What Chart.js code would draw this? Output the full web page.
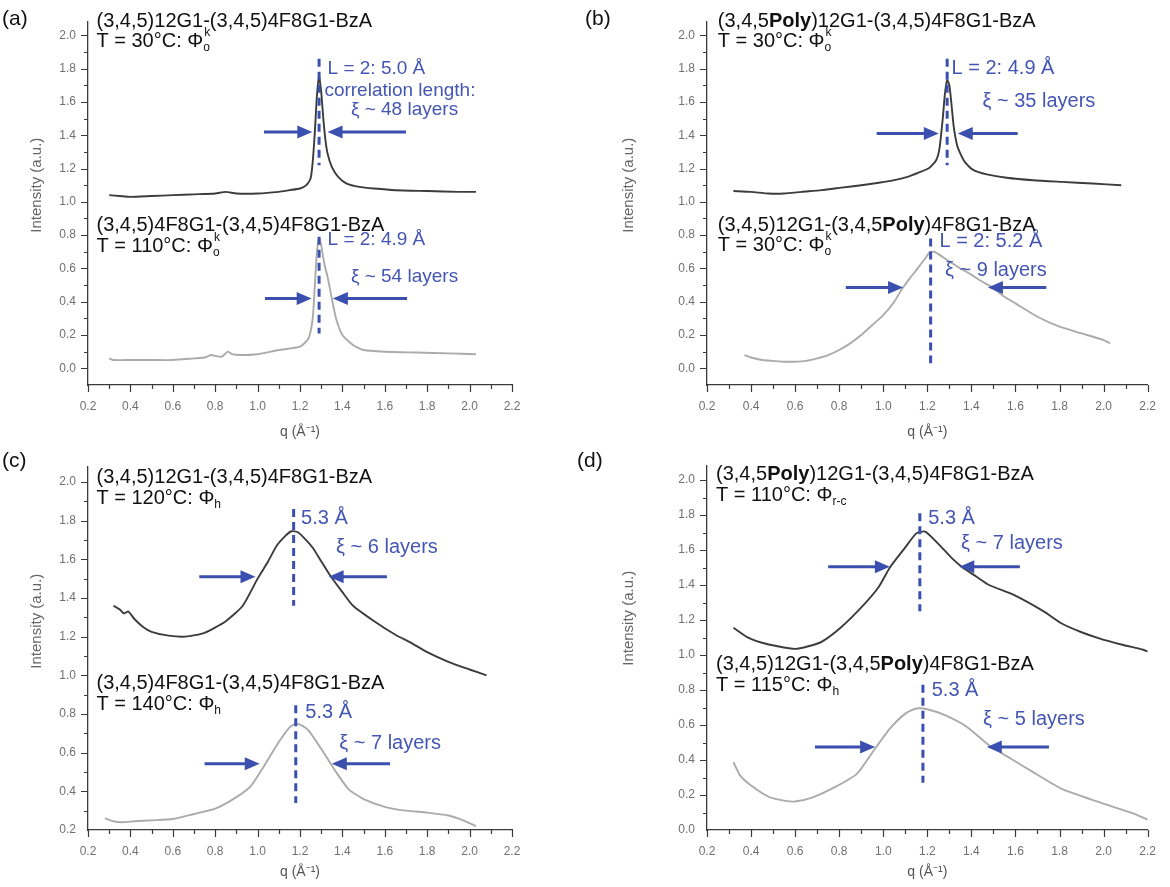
<!DOCTYPE html>
<html>
<head>
<meta charset="utf-8">
<script src="https://cdn.jsdelivr.net/npm/chart.js@4.4.0/dist/chart.umd.min.js"></script>
<style>
  html, body { margin: 0; padding: 0; background: #fff; }
  #fig { position: relative; width: 1170px; height: 887px; overflow: hidden; }
  canvas { position: absolute; }
  .lab { position: absolute; font: 21px "Liberation Sans", Arial, sans-serif; color: #111; }
</style>
</head>
<body>
<div id="fig">
  <canvas id="pa" width="585" height="445" style="left:0;top:0"></canvas>
  <canvas id="pb" width="585" height="445" style="left:585px;top:0"></canvas>
  <canvas id="pc" width="585" height="442" style="left:0;top:445px"></canvas>
  <canvas id="pd" width="585" height="442" style="left:585px;top:445px"></canvas>
  <div class="lab" style="left:2px;top:6px">(a)</div>
  <div class="lab" style="left:585px;top:6px">(b)</div>
  <div class="lab" style="left:2px;top:448px">(c)</div>
  <div class="lab" style="left:577px;top:448px">(d)</div>
</div>
<script>
// ---- axis ticks ----
const xTicks = [0.2, 0.4, 0.6, 0.8, 1.0, 1.2, 1.4, 1.6, 1.8, 2.0, 2.2];
const xTickLabels = ['0.2', '0.4', '0.6', '0.8', '1.0', '1.2', '1.4', '1.6', '1.8', '2.0', '2.2'];
const yTicks0 = [0.0, 0.2, 0.4, 0.6, 0.8, 1.0, 1.2, 1.4, 1.6, 1.8, 2.0];
const yTickLabels0 = ['0.0', '0.2', '0.4', '0.6', '0.8', '1.0', '1.2', '1.4', '1.6', '1.8', '2.0'];
const yTicksC = [0.2, 0.4, 0.6, 0.8, 1.0, 1.2, 1.4, 1.6, 1.8, 2.0];
const yTickLabelsC = ['0.2', '0.4', '0.6', '0.8', '1.0', '1.2', '1.4', '1.6', '1.8', '2.0'];

// ---- (a) ----
const qA1 = [0.30, 0.35, 0.40, 0.50, 0.60, 0.70, 0.80, 0.85, 0.90, 1.00, 1.10, 1.15, 1.20, 1.23, 1.25, 1.26, 1.27, 1.28, 1.29, 1.30, 1.31, 1.32, 1.33, 1.35, 1.38, 1.42, 1.48, 1.55, 1.65, 1.80, 1.95, 2.03];
const iA1 = [1.04, 1.035, 1.03, 1.035, 1.04, 1.045, 1.05, 1.06, 1.05, 1.05, 1.06, 1.07, 1.08, 1.10, 1.14, 1.24, 1.42, 1.64, 1.75, 1.66, 1.50, 1.37, 1.29, 1.21, 1.15, 1.11, 1.09, 1.08, 1.07, 1.065, 1.06, 1.06];
const qA2 = [0.30, 0.32, 0.40, 0.50, 0.60, 0.70, 0.75, 0.78, 0.80, 0.83, 0.86, 0.88, 0.92, 1.00, 1.10, 1.20, 1.24, 1.26, 1.27, 1.28, 1.29, 1.30, 1.31, 1.32, 1.33, 1.35, 1.37, 1.40, 1.45, 1.50, 1.60, 1.75, 1.90, 2.03];
const iA2 = [0.06, 0.05, 0.05, 0.05, 0.05, 0.06, 0.065, 0.08, 0.075, 0.07, 0.10, 0.085, 0.08, 0.085, 0.11, 0.13, 0.18, 0.30, 0.50, 0.70, 0.78, 0.74, 0.66, 0.60, 0.55, 0.42, 0.30, 0.20, 0.14, 0.11, 0.10, 0.095, 0.09, 0.085];

// ---- (b) ----
const qB1 = [0.32, 0.40, 0.48, 0.55, 0.63, 0.72, 0.81, 0.90, 0.98, 1.05, 1.11, 1.16, 1.21, 1.24, 1.255, 1.27, 1.28, 1.29, 1.30, 1.31, 1.32, 1.335, 1.35, 1.37, 1.41, 1.47, 1.56, 1.68, 1.81, 1.95, 2.08];
const iB1 = [1.065, 1.06, 1.05, 1.05, 1.06, 1.07, 1.085, 1.10, 1.115, 1.13, 1.15, 1.175, 1.205, 1.25, 1.32, 1.50, 1.65, 1.73, 1.70, 1.58, 1.45, 1.34, 1.29, 1.24, 1.19, 1.165, 1.145, 1.13, 1.12, 1.11, 1.10];
const qB2 = [0.37, 0.40, 0.45, 0.50, 0.55, 0.60, 0.65, 0.70, 0.75, 0.80, 0.85, 0.90, 0.95, 1.00, 1.05, 1.08, 1.12, 1.15, 1.19, 1.21, 1.23, 1.25, 1.295, 1.35, 1.395, 1.45, 1.495, 1.55, 1.60, 1.70, 1.80, 1.90, 2.00, 2.03];
const iB2 = [0.08, 0.065, 0.05, 0.045, 0.04, 0.04, 0.045, 0.06, 0.08, 0.11, 0.15, 0.20, 0.26, 0.32, 0.40, 0.466, 0.54, 0.59, 0.66, 0.695, 0.70, 0.686, 0.646, 0.60, 0.566, 0.52, 0.486, 0.43, 0.39, 0.31, 0.25, 0.21, 0.17, 0.15];

// ---- (c) ----
const qC1 = [0.32, 0.35, 0.37, 0.39, 0.42, 0.46, 0.50, 0.58, 0.66, 0.75, 0.85, 0.93, 1.00, 1.05, 1.09, 1.13, 1.16, 1.19, 1.22, 1.26, 1.30, 1.34, 1.40, 1.45, 1.55, 1.65, 1.72, 1.80, 1.90, 2.00, 2.08];
const iC1 = [1.36, 1.34, 1.32, 1.33, 1.29, 1.25, 1.225, 1.205, 1.20, 1.22, 1.28, 1.36, 1.50, 1.59, 1.67, 1.72, 1.745, 1.74, 1.71, 1.66, 1.59, 1.52, 1.43, 1.36, 1.28, 1.21, 1.17, 1.12, 1.07, 1.03, 1.00];
const qC2 = [0.28, 0.32, 0.36, 0.42, 0.50, 0.60, 0.70, 0.80, 0.90, 0.97, 1.03, 1.10, 1.15, 1.18, 1.21, 1.24, 1.30, 1.37, 1.43, 1.50, 1.60, 1.70, 1.80, 1.90, 1.97, 2.03];
const iC2 = [0.26, 0.245, 0.24, 0.245, 0.25, 0.257, 0.283, 0.31, 0.37, 0.43, 0.53, 0.655, 0.73, 0.75, 0.74, 0.715, 0.62, 0.50, 0.41, 0.36, 0.32, 0.30, 0.29, 0.275, 0.25, 0.22];

// ---- (d) ----
const qD1 = [0.32, 0.38, 0.45, 0.52, 0.60, 0.66, 0.72, 0.81, 0.91, 0.98, 1.03, 1.10, 1.15, 1.19, 1.25, 1.31, 1.36, 1.42, 1.48, 1.59, 1.73, 1.81, 1.90, 1.98, 2.08, 2.18, 2.20];
const iD1 = [1.156, 1.104, 1.07, 1.05, 1.035, 1.05, 1.075, 1.16, 1.285, 1.39, 1.50, 1.615, 1.695, 1.705, 1.635, 1.555, 1.50, 1.45, 1.40, 1.345, 1.248, 1.18, 1.13, 1.095, 1.06, 1.03, 1.02];
const qD2 = [0.32, 0.35, 0.40, 0.48, 0.55, 0.60, 0.68, 0.78, 0.88, 0.96, 1.03, 1.10, 1.15, 1.20, 1.28, 1.38, 1.48, 1.58, 1.68, 1.81, 1.98, 2.14, 2.20];
const iD2 = [0.388, 0.312, 0.254, 0.19, 0.168, 0.163, 0.187, 0.245, 0.321, 0.46, 0.579, 0.665, 0.694, 0.69, 0.656, 0.589, 0.484, 0.407, 0.331, 0.235, 0.159, 0.092, 0.059];

const FAM = '"Liberation Sans", Arial, sans-serif';
const DARK = '#3c3c3c';
const LIGHT = '#ababab';
const BLUE = '#3a4fae';
const AXIS = '#3a3a3a';

// draws text made of plain / bold / sub / sub+sup pieces
function drawRich(ctx, x, y, segs, size) {
  ctx.textBaseline = 'middle';
  ctx.textAlign = 'left';
  segs.forEach(s => {
    const t = s[0], kind = s[1];
    if (kind === 'ss' || kind === 'sub') {
      ctx.font = Math.round(size * 0.62) + 'px ' + FAM;
      ctx.fillText(t, x, y + size * 0.3);
      let w = ctx.measureText(t).width;
      if (kind === 'ss') {
        ctx.fillText(s[2], x + 1, y - size * 0.45);
        w = Math.max(w, ctx.measureText(s[2]).width + 1);
      }
      x += w;
    } else {
      ctx.font = (kind === 'b' ? 'bold ' : '') + size + 'px ' + FAM;
      ctx.fillText(t, x, y);
      x += ctx.measureText(t).width;
    }
  });
}

const notesPlugin = {
  id: 'notes',
  afterDraw(chart) {
    const ctx = chart.ctx, xs = chart.scales.x, ys = chart.scales.y, a = chart.chartArea;
    const n = chart.options.plugins.notes;
    ctx.save();

    // minor / major ticks
    ctx.strokeStyle = AXIS;
    ctx.lineWidth = 1.2;
    ctx.beginPath();
    for (let k = 2; k <= 22; k++) {
      const px = Math.round(xs.getPixelForValue(k / 10)) + 0.5;
      const len = k % 2 === 0 ? 7 : 4;
      ctx.moveTo(px, a.bottom);
      ctx.lineTo(px, a.bottom + len);
    }
    for (let k = Math.ceil(ys.min * 10); k <= Math.floor(ys.max * 10); k++) {
      const py = Math.round(ys.getPixelForValue(k / 10)) + 0.5;
      if (py > a.bottom - 1) continue;
      const len = k % 2 === 0 ? 7 : 4;
      ctx.moveTo(a.left - len, py);
      ctx.lineTo(a.left, py);
    }
    ctx.stroke();

    // y axis title
    ctx.save();
    ctx.translate(a.left - n.yTitleDx, ys.getPixelForValue(n.yTitleAt));
    ctx.rotate(-Math.PI / 2);
    ctx.fillStyle = '#666';
    ctx.font = '15px ' + FAM;
    ctx.textAlign = 'center';
    ctx.textBaseline = 'middle';
    ctx.fillText('Intensity (a.u.)', 0, 0);
    ctx.restore();

    // dashed peak markers
    ctx.strokeStyle = BLUE;
    ctx.lineWidth = 3;
    ctx.setLineDash([8, 5]);
    n.dashes.forEach(d => {
      const px = xs.getPixelForValue(d.q);
      ctx.beginPath();
      ctx.moveTo(px, ys.getPixelForValue(d.from));
      ctx.lineTo(px, ys.getPixelForValue(d.to));
      ctx.stroke();
    });
    ctx.setLineDash([]);

    // width arrows
    ctx.fillStyle = BLUE;
    n.arrows.forEach(r => {
      const py = ys.getPixelForValue(r.y);
      const x0 = xs.getPixelForValue(r.from), x1 = xs.getPixelForValue(r.to);
      const dir = x1 > x0 ? 1 : -1;
      ctx.beginPath();
      ctx.moveTo(x0, py);
      ctx.lineTo(x1 - dir * 10, py);
      ctx.stroke();
      ctx.beginPath();
      ctx.moveTo(x1, py);
      ctx.lineTo(x1 - dir * 15, py - 6.5);
      ctx.lineTo(x1 - dir * 15, py + 6.5);
      ctx.closePath();
      ctx.fill();
    });

    // blue annotation text
    n.texts.forEach(t => {
      ctx.fillStyle = '#4456b3';
      drawRich(ctx, xs.getPixelForValue(t.q), ys.getPixelForValue(t.y), [[t.text]], n.blueSize);
    });

    // black sample labels
    ctx.fillStyle = '#111';
    n.titles.forEach(t => {
      drawRich(ctx, xs.getPixelForValue(t.q), ys.getPixelForValue(t.y), t.segs, 20);
    });
    ctx.restore();
  }
};

function makePanel(id, p) {
  const cv = document.getElementById(id);
  const W = cv.width, H = cv.height;
  return new Chart(cv, {
    type: 'line',
    data: {
      datasets: p.series.map(s => ({
        data: s.q.map((q, i) => ({ x: q, y: s.i[i] })),
        borderColor: s.color,
        borderWidth: 1.9,
        pointRadius: 0,
        tension: 0.2,
        fill: false
      }))
    },
    options: {
      responsive: false,
      animation: false,
      devicePixelRatio: 1,
      layout: {
        padding: { left: p.area.l - p.yW, right: W - p.area.r, top: p.area.t, bottom: H - p.area.b - p.xH }
      },
      plugins: {
        legend: { display: false },
        tooltip: { enabled: false },
        notes: p.notes
      },
      scales: {
        x: {
          type: 'linear', min: 0.2, max: 2.2,
          afterBuildTicks: s => { s.ticks = xTicks.map(v => ({ value: v })); },
          afterFit: s => { s.height = p.xH; },
          grid: { display: false, drawTicks: false },
          border: { display: true, color: AXIS, width: 1.3 },
          ticks: {
            autoSkip: false, maxRotation: 0, padding: 14, color: '#707070',
            font: { family: FAM, size: 12 },
            callback: (v, i) => xTickLabels[i]
          },
          title: {
            display: true, text: 'q (Å⁻¹)', color: '#555',
            font: { family: FAM, size: 14 }, padding: { top: 0, bottom: p.xTitlePad }
          }
        },
        y: {
          type: 'linear', min: p.yMin, max: p.yMax,
          afterBuildTicks: s => { s.ticks = p.yTicks.map(v => ({ value: v })); },
          afterFit: s => { s.width = p.yW; },
          grid: { display: false, drawTicks: false },
          border: { display: true, color: AXIS, width: 1.3 },
          ticks: {
            autoSkip: false, padding: 12, color: '#707070',
            font: { family: FAM, size: 12 },
            callback: (v, i) => p.yLabels[i]
          },
          title: { display: false }
        }
      }
    },
    plugins: [notesPlugin]
  });
}

makePanel('pa', {
  area: { l: 88, r: 512, t: 22, b: 385 }, yW: 70, xH: 60, xTitlePad: 4,
  yMin: -0.1, yMax: 2.08, yTicks: yTicks0, yLabels: yTickLabels0,
  series: [{ q: qA1, i: iA1, color: DARK }, { q: qA2, i: iA2, color: LIGHT }],
  notes: {
    yTitleDx: 51, yTitleAt: 1.10, blueSize: 19,
    titles: [
      { q: 0.24, y: 2.085, segs: [['(3,4,5)12G1-(3,4,5)4F8G1-BzA']] },
      { q: 0.24, y: 1.96, segs: [['T = 30°C: Φ'], ['o', 'ss', 'k']] },
      { q: 0.24, y: 0.855, segs: [['(3,4,5)4F8G1-(3,4,5)4F8G1-BzA']] },
      { q: 0.24, y: 0.73, segs: [['T = 110°C: Φ'], ['o', 'ss', 'k']] }
    ],
    dashes: [{ q: 1.29, from: 1.86, to: 1.22 }, { q: 1.29, from: 0.79, to: 0.21 }],
    arrows: [
      { y: 1.42, from: 1.03, to: 1.258 }, { y: 1.42, from: 1.70, to: 1.33 },
      { y: 0.42, from: 1.035, to: 1.255 }, { y: 0.42, from: 1.705, to: 1.355 }
    ],
    texts: [
      { q: 1.33, y: 1.80, text: 'L = 2: 5.0 Å' },
      { q: 1.315, y: 1.67, text: 'correlation length:' },
      { q: 1.44, y: 1.55, text: 'ξ ~ 48 layers' },
      { q: 1.33, y: 0.77, text: 'L = 2: 4.9 Å' },
      { q: 1.44, y: 0.55, text: 'ξ ~ 54 layers' }
    ]
  }
});

makePanel('pb', {
  area: { l: 122, r: 575, t: 22, b: 385 }, yW: 90, xH: 60, xTitlePad: 4,
  yMin: -0.1, yMax: 2.08, yTicks: yTicks0, yLabels: yTickLabels0,
  series: [{ q: qB1, i: iB1, color: DARK }, { q: qB2, i: iB2, color: LIGHT }],
  notes: {
    yTitleDx: 78, yTitleAt: 1.10, blueSize: 20,
    titles: [
      { q: 0.249, y: 2.085, segs: [['(3,4,5'], ['Poly', 'b'], [')12G1-(3,4,5)4F8G1-BzA']] },
      { q: 0.249, y: 1.96, segs: [['T = 30°C: Φ'], ['o', 'ss', 'k']] },
      { q: 0.249, y: 0.86, segs: [['(3,4,5)12G1-(3,4,5'], ['Poly', 'b'], [')4F8G1-BzA']] },
      { q: 0.249, y: 0.735, segs: [['T = 30°C: Φ'], ['o', 'ss', 'k']] }
    ],
    dashes: [{ q: 1.29, from: 1.86, to: 1.22 }, { q: 1.215, from: 0.78, to: 0.03 }],
    arrows: [
      { y: 1.41, from: 0.97, to: 1.252 }, { y: 1.41, from: 1.61, to: 1.338 },
      { y: 0.486, from: 0.83, to: 1.09 }, { y: 0.486, from: 1.74, to: 1.475 }
    ],
    texts: [
      { q: 1.31, y: 1.80, text: 'L = 2: 4.9 Å' },
      { q: 1.45, y: 1.60, text: 'ξ ~ 35 layers' },
      { q: 1.255, y: 0.76, text: 'L = 2: 5.2 Å' },
      { q: 1.28, y: 0.59, text: 'ξ ~ 9 layers' }
    ]
  }
});

makePanel('pc', {
  area: { l: 88, r: 512, t: 21.5, b: 385 }, yW: 70, xH: 57, xTitlePad: 6,
  yMin: 0.2, yMax: 2.08, yTicks: yTicksC, yLabels: yTickLabelsC,
  series: [{ q: qC1, i: iC1, color: DARK }, { q: qC2, i: iC2, color: LIGHT }],
  notes: {
    yTitleDx: 51, yTitleAt: 1.28, blueSize: 20,
    titles: [
      { q: 0.24, y: 2.025, segs: [['(3,4,5)12G1-(3,4,5)4F8G1-BzA']] },
      { q: 0.24, y: 1.915, segs: [['T = 120°C: Φ'], ['h', 'sub']] },
      { q: 0.24, y: 0.96, segs: [['(3,4,5)4F8G1-(3,4,5)4F8G1-BzA']] },
      { q: 0.24, y: 0.85, segs: [['T = 140°C: Φ'], ['h', 'sub']] }
    ],
    dashes: [{ q: 1.17, from: 1.86, to: 1.36 }, { q: 1.18, from: 0.845, to: 0.34 }],
    arrows: [
      { y: 1.51, from: 0.725, to: 0.99 }, { y: 1.51, from: 1.61, to: 1.335 },
      { y: 0.542, from: 0.75, to: 1.01 }, { y: 0.542, from: 1.625, to: 1.35 }
    ],
    texts: [
      { q: 1.205, y: 1.81, text: '5.3 Å' },
      { q: 1.37, y: 1.66, text: 'ξ ~ 6 layers' },
      { q: 1.225, y: 0.81, text: '5.3 Å' },
      { q: 1.385, y: 0.65, text: 'ξ ~ 7 layers' }
    ]
  }
});

makePanel('pd', {
  area: { l: 122, r: 575, t: 21, b: 385 }, yW: 90, xH: 57, xTitlePad: 6,
  yMin: 0, yMax: 2.08, yTicks: yTicks0, yLabels: yTickLabels0,
  series: [{ q: qD1, i: iD1, color: DARK }, { q: qD2, i: iD2, color: LIGHT }],
  notes: {
    yTitleDx: 78, yTitleAt: 1.21, blueSize: 20,
    titles: [
      { q: 0.241, y: 2.03, segs: [['(3,4,5'], ['Poly', 'b'], [')12G1-(3,4,5)4F8G1-BzA']] },
      { q: 0.241, y: 1.91, segs: [['T = 110°C: Φ'], ['r-c', 'sub']] },
      { q: 0.241, y: 0.945, segs: [['(3,4,5)12G1-(3,4,5'], ['Poly', 'b'], [')4F8G1-BzA']] },
      { q: 0.241, y: 0.825, segs: [['T = 115°C: Φ'], ['h', 'sub']] }
    ],
    dashes: [{ q: 1.166, from: 1.81, to: 1.25 }, { q: 1.18, from: 0.83, to: 0.27 }],
    arrows: [
      { y: 1.504, from: 0.75, to: 1.03 }, { y: 1.504, from: 1.62, to: 1.345 },
      { y: 0.474, from: 0.69, to: 0.963 }, { y: 0.474, from: 1.752, to: 1.47 }
    ],
    texts: [
      { q: 1.204, y: 1.78, text: '5.3 Å' },
      { q: 1.353, y: 1.64, text: 'ξ ~ 7 layers' },
      { q: 1.22, y: 0.80, text: '5.3 Å' },
      { q: 1.453, y: 0.633, text: 'ξ ~ 5 layers' }
    ]
  }
});
</script>
</body>
</html>
